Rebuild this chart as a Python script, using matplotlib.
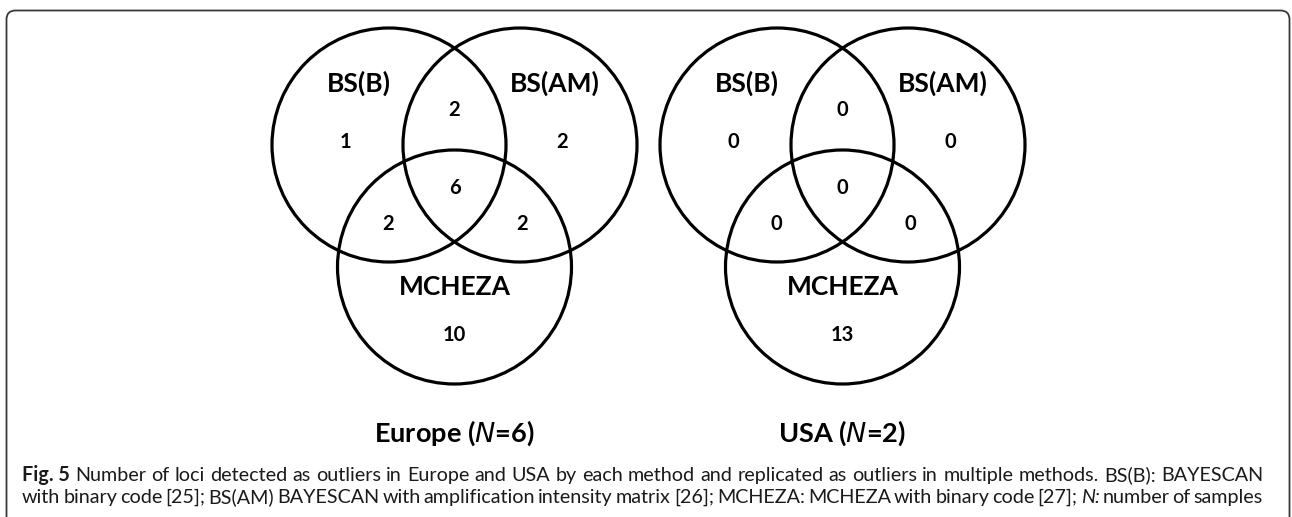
import matplotlib
matplotlib.use('Agg')
import matplotlib.pyplot as plt
from matplotlib.patches import Circle, FancyBboxPatch

plt.rcParams['font.family'] = ['Lato', 'DejaVu Sans']

# sets and region counts (order: A only, B only, C only, AB, AC, BC, ABC)
set_names = ['BS(B)', 'BS(AM)', 'MCHEZA']
regions = ['100', '010', '001', '110', '101', '011', '111']
europe_counts = [1, 2, 10, 2, 2, 2, 6]
usa_counts = [0, 0, 13, 0, 0, 0, 0]
panel_titles = [('Europe', '6'), ('USA', '2')]

caption_lines = [
    [('Fig. 5', 'bold'), 'Number of loci detected as outliers in Europe and USA by each method '
     'and replicated as outliers in multiple methods. BS(B): BAYESCAN'],
    ['with binary code [25]; BS(AM) BAYESCAN with amplification intensity matrix [26]; '
     'MCHEZA: MCHEZA with binary code [27];', ('N:', 'italic'), 'number of samples'],
]

W, H = 1292, 517
fig = plt.figure(figsize=(W / 100, H / 100), dpi=100)
ax = fig.add_axes([0, 0, 1, 1])
ax.set_xlim(0, W)
ax.set_ylim(H, 0)
ax.axis('off')

# outer rounded frame (runs off the bottom)
frame = FancyBboxPatch((6.5, 10.5), 1283, 540, boxstyle='round,pad=0,rounding_size=9',
                       fill=False, ec='#3a3a3a', lw=1.3)
ax.add_patch(frame)

r = 117
circle_off = [(-65.5, 0), (65.5, 0), (0, 122)]
label_off = [(-96, -62), (100, -62), (0, 142)]
count_off = {'100': (-109, -3), '010': (108, -3), '001': (0, 190),
             '110': (0, -35), '101': (-66, 79), '011': (68, 79), '111': (0, 43)}

origins = [(454.5, 145), (842.5, 145)]
for (ox, oy), counts, (place, n) in zip(origins, [europe_counts, usa_counts], panel_titles):
    for (dx, dy) in circle_off:
        ax.add_patch(Circle((ox + dx, oy + dy), r, fill=False, ec='black', lw=2.3))
    for name, (dx, dy) in zip(set_names, label_off):
        ax.text(ox + dx, oy + dy, name, ha='center', va='center', fontsize=19,
                fontweight='bold')
    for reg, c in zip(regions, counts):
        dx, dy = count_off[reg]
        ax.text(ox + dx, oy + dy, str(c), ha='center', va='center', fontsize=14.5,
                fontweight='bold')
    ax.text(ox, oy + 288, place + ' ($\\mathit{N}$=' + n + ')', ha='center', va='center',
            fontsize=19.5, fontweight='bold')

# caption: pick a font size so line 1 fills the width, then justify both lines
renderer = fig.canvas.get_renderer()
x0, x1 = 22, 1263
ys = [481, 503]


def make_tokens(line):
    tokens = []
    for part in line:
        if isinstance(part, tuple):
            tokens.append(part)
        else:
            tokens += [(w, 'normal') for w in part.split()]
    return tokens


def word_texts(tokens, y, size):
    texts = []
    for word, style in tokens:
        kw = dict(fontsize=size, va='baseline', ha='left', color='#1a1a1a')
        if style == 'bold':
            kw['fontweight'] = 'bold'
        elif style == 'italic':
            kw['fontstyle'] = 'italic'
        texts.append(ax.text(0, y, word, **kw))
    return texts


size = 11.5
tok1 = make_tokens(caption_lines[0])
for _ in range(4):
    tt = word_texts(tok1, ys[0], size)
    a2 = ax.text(0, 0, 'a a', fontsize=size)
    a1 = ax.text(0, 0, 'a', fontsize=size)
    sw = a2.get_window_extent(renderer).width - 2 * a1.get_window_extent(renderer).width
    natural = sum(t.get_window_extent(renderer).width for t in tt) + sw * (len(tt) - 1)
    for t in tt + [a1, a2]:
        t.remove()
    size *= (x1 - x0) / natural

for line, y in zip(caption_lines, ys):
    texts = word_texts(make_tokens(line), y, size)
    widths = [t.get_window_extent(renderer).width for t in texts]
    gap = (x1 - x0 - sum(widths)) / (len(texts) - 1)
    x = x0
    for t, w in zip(texts, widths):
        t.set_x(x)
        x += w + gap

fig.savefig('out.png', dpi=100)
